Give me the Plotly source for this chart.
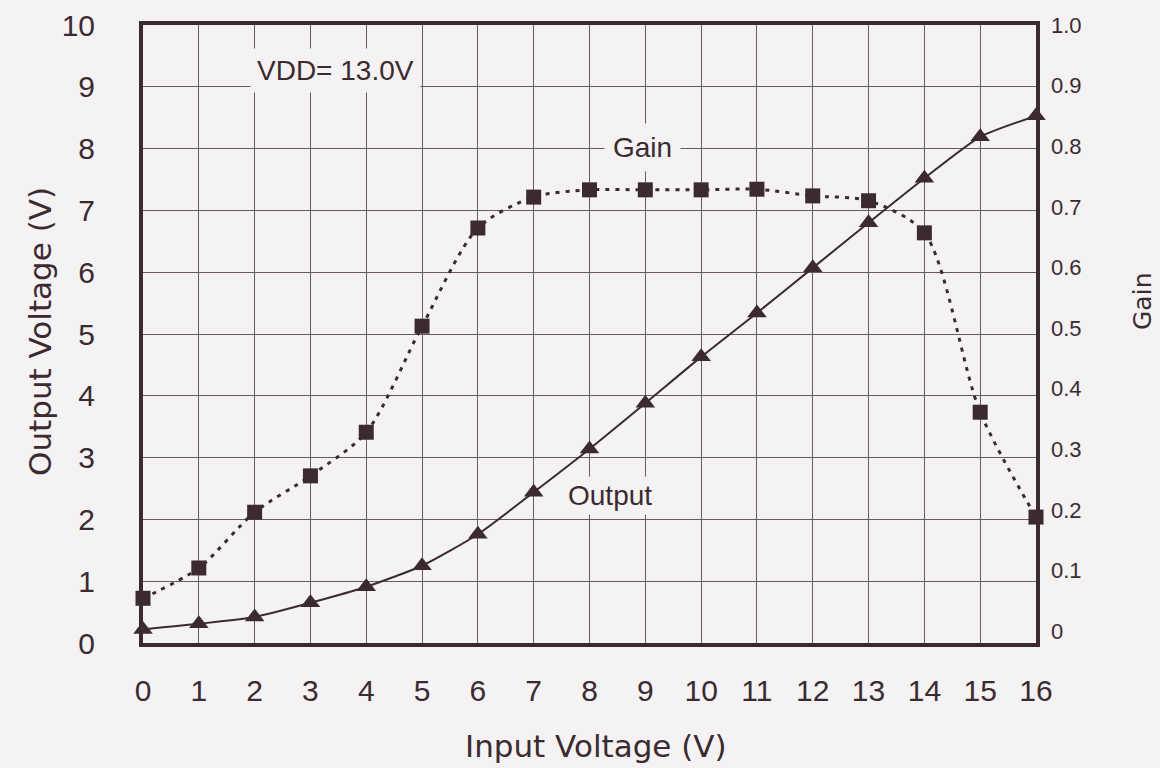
import plotly.graph_objects as go

input_v = list(range(17))
output_v = [0.22, 0.31, 0.42, 0.65, 0.91, 1.25, 1.76, 2.44, 3.14, 3.88, 4.63, 5.34, 6.07, 6.80, 7.52, 8.19, 8.53]
gain = [0.054, 0.104, 0.196, 0.256, 0.328, 0.503, 0.665, 0.716, 0.728, 0.728, 0.728, 0.729, 0.718, 0.710, 0.657, 0.361, 0.188]

x_ticks = list(range(17))
y_ticks = list(range(11))
gain_ticks = [0, 0.1, 0.2, 0.3, 0.4, 0.5, 0.6, 0.7, 0.8, 0.9, 1.0]
gain_labels = ["0", "0.1", "0.2", "0.3", "0.4", "0.5", "0.6", "0.7", "0.8", "0.9", "1.0"]

ink = "#3b2b31"
grid = "#6a5a60"
bg = "#f4f2f3"
font = "Liberation Sans"
title_font = "DejaVu Sans"

# plot area in pixels
L, R, T, B = 143, 124, 25, 125
W, H = 1160, 768
PW, PH = W - L - R, H - T - B

fig = go.Figure()
fig.add_trace(go.Scatter(
    x=input_v, y=gain, yaxis="y2", mode="lines+markers",
    line=dict(color=ink, width=3, dash="4px,6px", shape="spline", smoothing=0.8),
    marker=dict(symbol="square", size=15, color=ink),
    name="Gain", cliponaxis=False))
fig.add_trace(go.Scatter(
    x=input_v, y=output_v, mode="lines+markers",
    line=dict(color=ink, width=2, shape="spline", smoothing=0.6),
    marker=dict(symbol="triangle-up", size=17, color=ink),
    name="Output", cliponaxis=False))

fig.update_layout(
    width=W, height=H,
    margin=dict(l=L, r=R, t=T, b=B, autoexpand=False),
    paper_bgcolor=bg, plot_bgcolor=bg,
    showlegend=False,
    font=dict(family=font, color=ink),
    xaxis=dict(range=[0, 16], tickvals=x_ticks, showgrid=True, gridcolor=grid, gridwidth=1,
               zeroline=False, showline=True, linecolor=ink, linewidth=4, mirror=True,
               automargin=False,
               ticks="", tickfont=dict(size=30, color=ink), ticklabelstandoff=18),
    yaxis=dict(range=[0, 10], tickvals=y_ticks, showgrid=True, gridcolor=grid, gridwidth=1,
               zeroline=False, showline=True, linecolor=ink, linewidth=4, mirror=True,
               automargin=False,
               ticks="", tickfont=dict(size=30, color=ink), ticklabelstandoff=38),
    yaxis2=dict(range=[-0.0198, 1.0], overlaying="y", side="right", tickvals=gain_ticks,
                ticktext=gain_labels, showgrid=False, zeroline=False, showline=False,
                automargin=False,
                ticks="", tickfont=dict(size=22, color=ink), ticklabelstandoff=14),
)

annots = [
    dict(text="VDD= 13.0V", x=3.44, y=9.27, xref="x", yref="y", font=dict(size=28), bgcolor=bg,
         borderpad=6),
    dict(text="Gain", x=8.95, y=8.01, xref="x", yref="y", font=dict(size=28), bgcolor=bg,
         borderpad=8),
    dict(text="Output", x=8.37, y=2.39, xref="x", yref="y", font=dict(size=28), bgcolor=bg,
         borderpad=3),
    dict(text="Input Voltage (V)", px=596, py=746, font=dict(size=31, family=title_font)),
    dict(text="Output Voltage (V)", px=40, py=332, font=dict(size=31, family=title_font),
         textangle=-90),
    dict(text="Gain", px=1143, py=302, font=dict(size=25, family=title_font), textangle=-90),
]
for a in annots:
    a["showarrow"] = False
    if "px" in a:
        a["xref"] = "paper"
        a["yref"] = "paper"
        a["x"] = (a.pop("px") - L) / PW
        a["y"] = (H - B - a.pop("py")) / PH
        a["xanchor"] = "center"
        a["yanchor"] = "middle"
    fig.add_annotation(**a)

fig.write_html("out.html")
